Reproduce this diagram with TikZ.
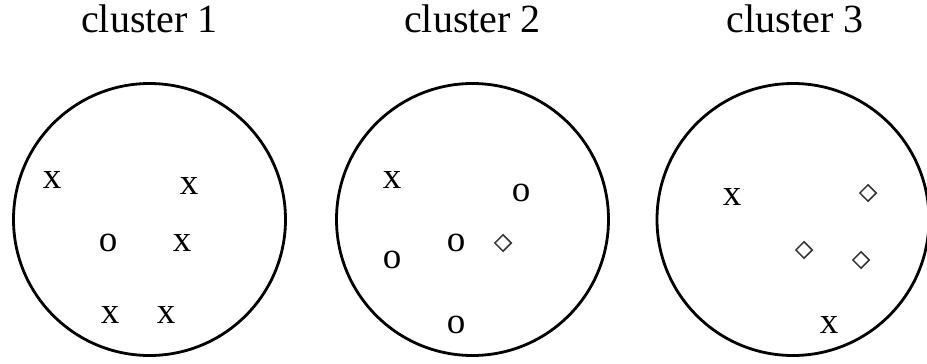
\documentclass[tikz,border=0pt]{standalone}
\usepackage{fontspec}
\setmainfont{Liberation Serif}
\usetikzlibrary{shapes.geometric}
\begin{document}
\begin{tikzpicture}[x=1pt,y=-1pt,
  ring/.style={draw,line width=2.8pt,circle,minimum size=272pt,inner sep=0pt},
  title/.style={anchor=base,inner sep=0pt,font=\fontsize{40}{44}\selectfont},
  pt/.style={inner sep=0pt,font=\fontsize{37}{40}\selectfont},
  dia/.style={draw,line width=1.5pt,diamond,minimum size=17pt,inner sep=0pt,black!80}]
\useasboundingbox (0,0) rectangle (927,364);
% circles
\node[ring] (c1) at (149.5,219.5) {};
\node[ring] (c2) at (472.5,219.5) {};
\node[ring] (c3) at (793,219.5) {};
% titles
\node[title] (t1) at (149.5,32) {cluster 1};
\node[title] (t2) at (472.5,32) {cluster 2};
\node[title] (t3) at (795,32) {cluster 3};
% cluster 1
\node[pt] (a1) at (52,180) {x};
\node[pt] (a2) at (189,186) {x};
\node[pt] (a3) at (108,243) {o};
\node[pt] (a4) at (182,243) {x};
\node[pt] (a5) at (110,315) {x};
\node[pt] (a6) at (166,315) {x};
% cluster 2
\node[pt] (b1) at (392,180) {x};
\node[pt] (b2) at (521,193) {o};
\node[pt] (b3) at (456,243) {o};
\node[dia] (b4) at (503,243) {};
\node[pt] (b5) at (392,260) {o};
\node[pt] (b6) at (456,325) {o};
% cluster 3
\node[pt] (d1) at (732,197) {x};
\node[dia] (d2) at (868,193) {};
\node[dia] (d3) at (804,250) {};
\node[dia] (d4) at (861,260) {};
\node[pt] (d5) at (829,325) {x};
\end{tikzpicture}
\end{document}
